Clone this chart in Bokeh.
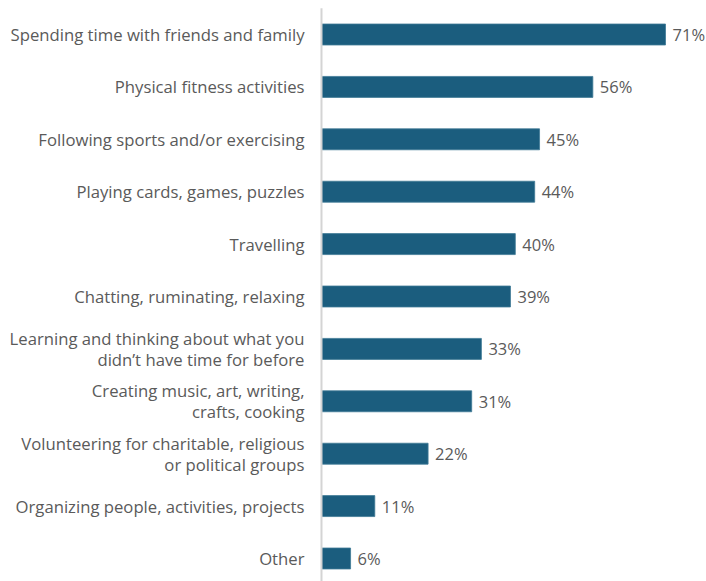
from bokeh.plotting import figure
from bokeh.models import ColumnDataSource, Range1d
from bokeh.core.properties import value
from bokeh.embed import file_html
from bokeh.resources import INLINE

categories = [
    "Spending time with friends and family",
    "Physical fitness activities",
    "Following sports and/or exercising",
    "Playing cards, games, puzzles",
    "Travelling",
    "Chatting, ruminating, relaxing",
    "Learning and thinking about what you\ndidn\u2019t have time for before",
    "Creating music, art, writing,\ncrafts, cooking",
    "Volunteering for charitable, religious\nor political groups",
    "Organizing people, activities, projects",
    "Other",
]
values = [71, 56, 45, 44, 40, 39, 33, 31, 22, 11, 6]
value_labels = [f"{v}%" for v in values]

pos = list(range(len(categories)))
src = ColumnDataSource(dict(y=pos, v=values, cat=categories, lab=value_labels,
                            zero=[0] * len(pos)))

p = figure(width=706, height=581, output_backend="svg", toolbar_location=None,
           x_range=Range1d(-66.25, 79.46), y_range=Range1d(10.439, -0.649),
           min_border=0, outline_line_color=None)
p.axis.visible = False
p.grid.visible = False
p.background_fill_color = "white"
p.border_fill_color = "white"

p.hbar(y="y", left="zero", right="v", height=0.4, source=src,
       fill_color="#1b5d7e", line_color="#3f7a96", line_width=0.8)

p.segment(x0=[0], y0=[-0.5], x1=[0], y1=[10.6], line_color="#d4d4d4", line_width=2)

p.text(x="zero", y="y", text="cat", source=src, x_offset=-17,
       text_align="right", text_baseline="middle", text_font=value("Open Sans"),
       text_font_size="16.7px", text_color="#5a5a5a", text_line_height=0.92)

p.text(x="v", y="y", text="lab", source=src, x_offset=7,
       text_align="left", text_baseline="middle", text_font=value("Open Sans"),
       text_font_size="16.5px", text_color="#5a5a5a")

open("out.html", "w").write(file_html(p, INLINE))
